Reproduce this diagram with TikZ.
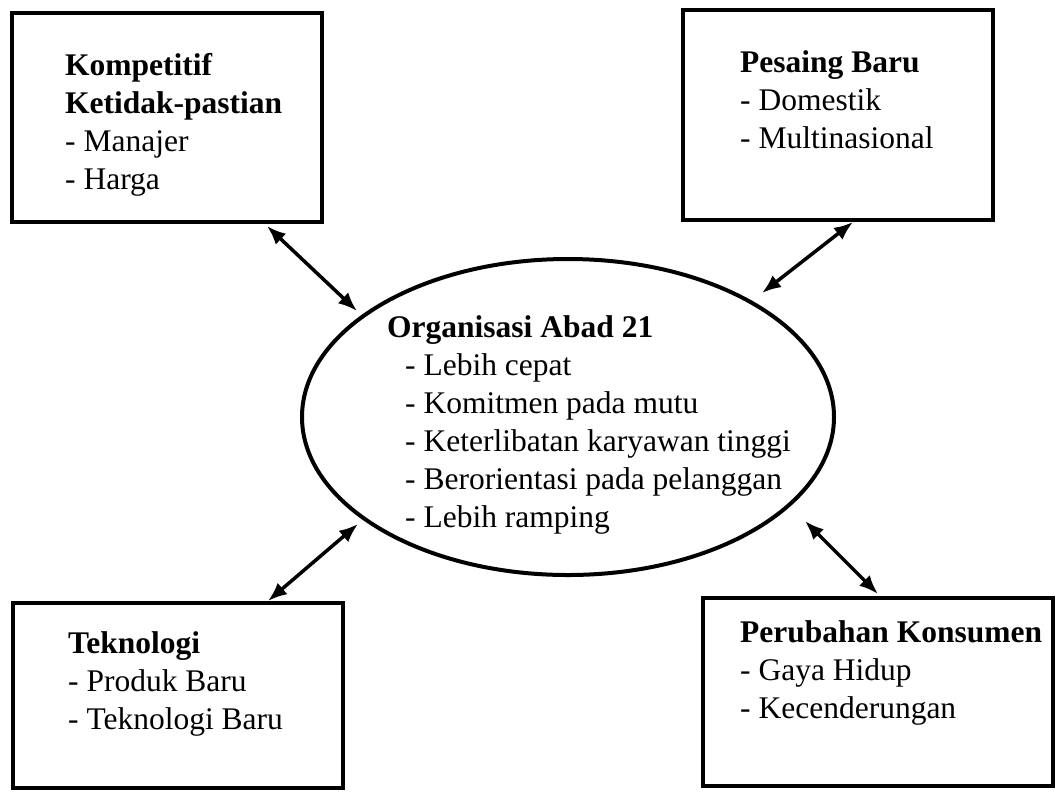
\documentclass[tikz,border=0pt]{standalone}
\usepackage{fontspec}
\setmainfont{Liberation Serif}
\usetikzlibrary{arrows.meta,shapes.geometric}
\tikzset{
  box/.style={draw=black, line width=4pt, rectangle, inner sep=0pt},
  txt/.style={anchor=north west, inner sep=0pt, align=left, font=\fontsize{31.5}{38}\selectfont},
  link/.style={line width=3.5pt, {Latex[length=19pt,width=15pt]}-{Latex[length=19pt,width=15pt]}}
}
\begin{document}
\begin{tikzpicture}[x=1pt,y=-1pt]
\useasboundingbox (0,0) rectangle (1056,793);
% boxes
\node[box, minimum width=310pt, minimum height=209pt] (tl) at (167,117.5) {};
\node[box, minimum width=310pt, minimum height=210pt] (tr) at (838,115) {};
\node[box, minimum width=330pt, minimum height=185pt] (bl) at (178,695.5) {};
\node[box, minimum width=350pt, minimum height=188pt] (br) at (878,692) {};
% ellipse
\node[draw=black, line width=4pt, ellipse, minimum width=532pt, minimum height=316pt, inner sep=0pt] (org) at (568,417) {};
% texts
\node[txt] (ttl) at (65,53.5) {\textbf{Kompetitif}\\\textbf{Ketidak-pastian}\\- Manajer\\- Harga};
\node[txt] (ttr) at (740,50.5) {\textbf{Pesaing Baru}\\- Domestik\\- Multinasional};
\node[txt] (torg) at (387,315.5) {\textbf{Organisasi Abad 21}\\\hspace*{18pt}- Lebih cepat\\\hspace*{18pt}- Komitmen pada mutu\\\hspace*{18pt}- Keterlibatan karyawan tinggi\\\hspace*{18pt}- Berorientasi pada pelanggan\\\hspace*{18pt}- Lebih ramping};
\node[txt] (tbl) at (68,631.5) {\textbf{Teknologi}\\- Produk Baru\\- Teknologi Baru};
\node[txt] (tbr) at (740,620.5) {\textbf{Perubahan Konsumen}\\- Gaya Hidup\\- Kecenderungan};
% connector end points
\coordinate (a1) at (267,226);
\coordinate (a2) at (357,311);
\coordinate (b1) at (853,222);
\coordinate (b2) at (762,293);
\coordinate (c1) at (268,601);
\coordinate (c2) at (358,524);
\coordinate (d1) at (805,521);
\coordinate (d2) at (878,594);
\draw[link] (a1) -- (a2);
\draw[link] (b1) -- (b2);
\draw[link] (c1) -- (c2);
\draw[link] (d1) -- (d2);
\end{tikzpicture}
\end{document}
